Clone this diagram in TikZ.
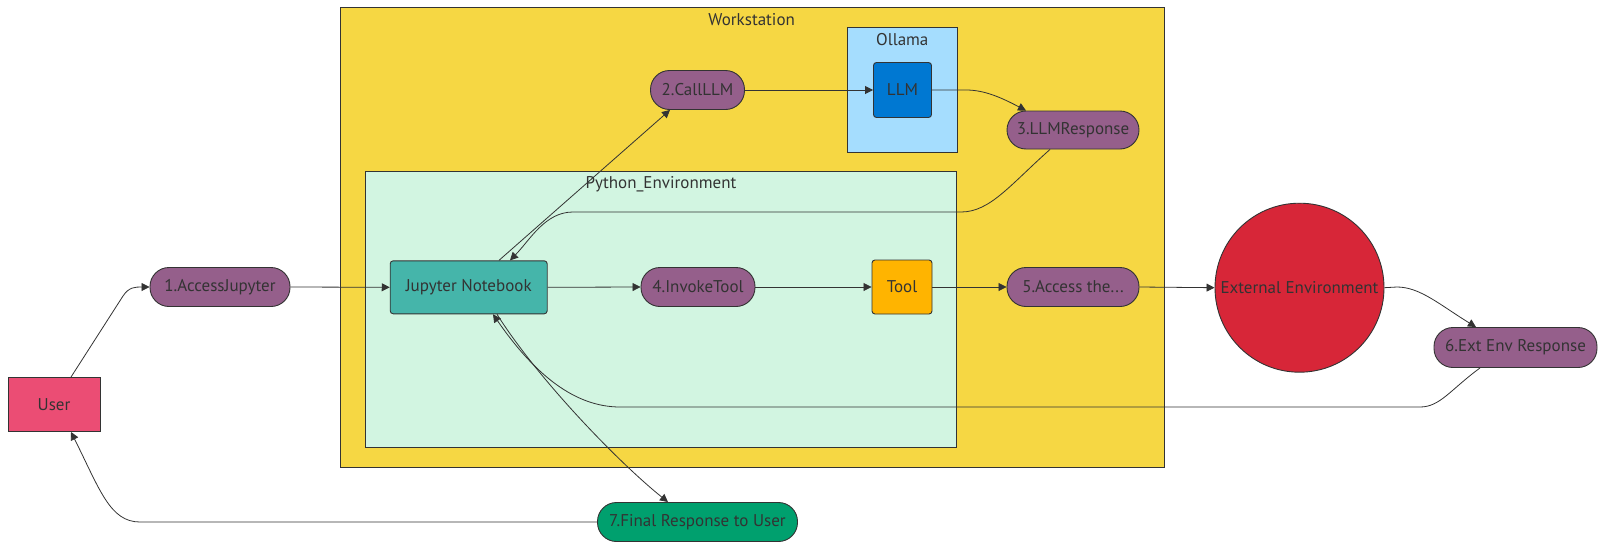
\documentclass[tikz,border=0pt]{standalone}
\usepackage{fontspec}
\setmainfont{PT Sans}
\usetikzlibrary{arrows.meta,calc}
\definecolor{edgec}{HTML}{333333}
\definecolor{txt}{HTML}{333333}
\definecolor{userc}{HTML}{EB4D74}
\definecolor{purp}{HTML}{955F8B}
\definecolor{wsc}{HTML}{F6D743}
\definecolor{pyc}{HTML}{D2F5E1}
\definecolor{olc}{HTML}{A5DDFE}
\definecolor{llmc}{HTML}{0078D2}
\definecolor{jupc}{HTML}{45B5AA}
\definecolor{toolc}{HTML}{FFB400}
\definecolor{extc}{HTML}{D72638}
\definecolor{finc}{HTML}{00A06E}
\begin{document}
\begin{tikzpicture}[x=1pt,y=-1pt,
  base/.style={draw=edgec, line width=0.9pt, text=txt, font=\fontsize{17}{20}\selectfont, inner sep=0pt},
  pill/.style={base, fill=purp, rounded corners=19pt, minimum height=39pt},
  boxn/.style={base, rounded corners=3pt},
  cluster/.style={draw=edgec, line width=0.9pt},
  clabel/.style={text=txt, font=\fontsize{17}{20}\selectfont, inner sep=0pt},
  edge/.style={draw=edgec, line width=0.8pt, -{Triangle[length=8pt,width=8pt]}}]
\useasboundingbox (0,0) rectangle (1604,549);
% clusters
\draw[cluster, fill=wsc] (340,7.3) rectangle (1164.3,467.3);
\node[clabel] (wsl) at (751.7,19.3) {Workstation};
\draw[cluster, fill=pyc] (365.7,171.9) rectangle (956.7,447.3);
\node[clabel] (pyl) at (661,184) {Python\_Environment};
\draw[cluster, fill=olc] (847.7,27.7) rectangle (957.3,152.3);
\node[clabel] (oll) at (902.3,40) {Ollama};
% nodes
\node[base, fill=userc, minimum width=92pt, minimum height=54pt] (user) at (54,404.5) {User};
\node[pill, minimum width=140pt] (a1) at (220,287) {1.AccessJupyter};
\node[boxn, fill=jupc, minimum width=157pt, minimum height=53pt] (jup) at (468.7,287.3) {Jupyter Notebook};
\node[pill, minimum width=94pt] (cl) at (697.5,90) {2.CallLLM};
\node[boxn, fill=llmc, minimum width=58pt, minimum height=55pt] (llm) at (902.5,90) {LLM};
\node[pill, minimum width=132pt, minimum height=38pt] (r3) at (1073,130) {3.LLMResponse};
\node[pill, minimum width=114pt] (it) at (698,287) {4.InvokeTool};
\node[boxn, fill=toolc, minimum width=60pt, minimum height=54pt] (tool) at (902,287) {Tool};
\node[pill, minimum width=132pt] (a5) at (1073,287) {5.Access the...};
\node[base, circle, fill=extc, minimum size=169pt] (ext) at (1299.5,287.7) {External Environment};
\node[pill, minimum width=163pt, minimum height=40pt] (r6) at (1515.5,347.5) {6.Ext Env Response};
\node[pill, fill=finc, minimum width=200pt] (fin) at (697.5,522) {7.Final Response to User};
% edges
\draw[edge] ([xshift=17pt]user.north) -- (123,296) .. controls (129,287) and (135,287) .. (a1.west);
\draw[edge] (a1.east) -- (jup.west);
\draw[edge] ([xshift=30.3pt]jup.north) -- ([xshift=-27.5pt]cl.south);
\draw[edge] (cl.east) -- (llm.west);
\draw[edge] (llm.east) -- (966,90) .. controls (985,90) and (1002,98) .. ([xshift=-47pt]r3.north);
\draw[edge] ([xshift=-23pt]r3.south) .. controls (1010,185) and (990,212) .. (961,212) -- (573,212) .. controls (545,212) and (530,240) .. ([xshift=41.3pt]jup.north);
\draw[edge] (jup.east) -- (it.west);
\draw[edge] (it.east) -- (tool.west);
\draw[edge] (tool.east) -- (a5.west);
\draw[edge] (a5.east) -- (ext.west);
\draw[edge] (ext.east) -- (1397,287) .. controls (1420,287) and (1440,305) .. ([xshift=-39.5pt]r6.north);
\draw[edge] ([xshift=-35.5pt]r6.south) .. controls (1450,390) and (1440,407) .. (1420,407) -- (620,407) .. controls (575,407) and (535,375) .. ([xshift=24.3pt]jup.south);
\draw[edge] ([xshift=28.3pt]jup.south) .. controls (537,378) and (618,462) .. ([xshift=-29.5pt]fin.north);
\draw[edge] (fin.west) -- (140,522) .. controls (110,522) and (100,490) .. ([xshift=17pt]user.south);
\end{tikzpicture}
\end{document}
